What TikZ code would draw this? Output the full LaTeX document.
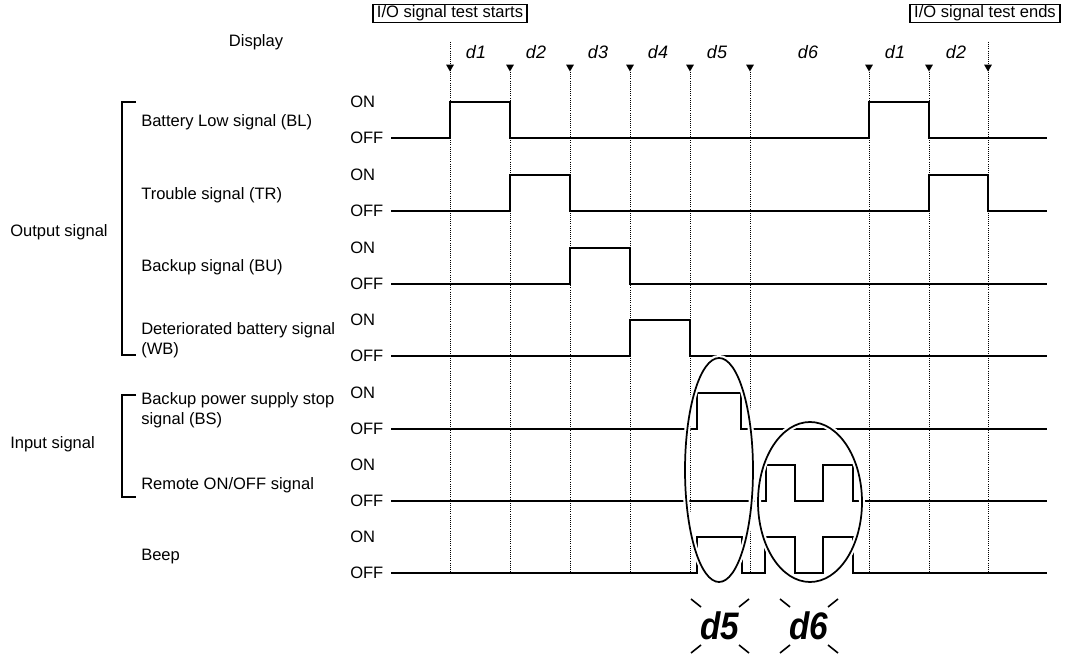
\documentclass[tikz,border=0pt]{standalone}
\usepackage{fontspec}
\setmainfont{Liberation Sans}
\usetikzlibrary{shapes.geometric, calc}

\begin{document}
\begin{tikzpicture}[
        x=0.75pt, y=-0.75pt,
        % Styles
        lbl/.style={font=\fontsize{12.4}{15}\selectfont, inner sep=0pt},
        level/.style={lbl, anchor=west},
        signame/.style={lbl, anchor=west, align=left},
        phasebox/.style={lbl, draw, line width=1.2pt, inner xsep=3pt, inner ysep=1pt},
        digit/.style={font=\fontsize{13.5}{15}\selectfont\itshape, inner sep=0pt},
        bigdigit/.style={font=\fontsize{25}{27}\selectfont\bfseries\itshape, inner sep=0pt, yscale=1.15},
        trig/.style={regular polygon, regular polygon sides=3, shape border rotate=180,
                     fill=black, inner sep=0pt, minimum size=6.75pt},
        guide/.style={densely dotted, line width=0.6pt},
        wave/.style={line width=1.5pt},
        bracket/.style={line width=1.5pt},
        ring/.style={line width=1.3pt},
        halo/.style={white, line width=4.5pt},
        ray/.style={line width=1.2pt},
    ]
    \useasboundingbox (0,0) rectangle (1071,655);

    % Test start / end
    \node[phasebox] (start) at (450,13.5) {I/O signal test starts};
    \node[phasebox] (stop) at (985,13.5) {I/O signal test ends};
    \coordinate (topa) at (450,42);
    \coordinate (topb) at (988,42);
    \coordinate (base) at (391,573);

    % Display markers
    \node[lbl] (display) at (256,42) {Display};
    \node[trig] (m0) at (450,67) {};
    \node[trig] (m1) at (510,67) {};
    \node[trig] (m2) at (570,67) {};
    \node[trig] (m3) at (630,67) {};
    \node[trig] (m4) at (690,67) {};
    \node[trig] (m5) at (750,67) {};
    \node[trig] (m6) at (869,67) {};
    \node[trig] (m7) at (929,67) {};
    \node[trig] (m8) at (988,67) {};

    \draw[guide] (topa) -- (m0 |- base);
    \draw[guide] (topb) -- (m8 |- base);
    \foreach \m in {m1,m2,m3,m4,m5,m6,m7}
        \draw[guide] (\m.south) -- (\m |- base);

    \node[digit] (da) at (476,52) {d1};
    \node[digit] (db) at (536,52) {d2};
    \node[digit] (dc) at (598,52) {d3};
    \node[digit] (dd) at (658,52) {d4};
    \node[digit] (de) at (717,52) {d5};
    \node[digit] (df) at (808,52) {d6};
    \node[digit] (dg) at (895,52) {d1};
    \node[digit] (dh) at (956,52) {d2};

    % Group labels
    \node[lbl, anchor=west] (outsig) at (10,232) {Output signal};
    \node[lbl, anchor=west] (insig) at (10,444) {Input signal};
    \draw[bracket] (136,102) -| (122,355) -- (136,355);
    \draw[bracket] (136,395) -| (122,497) -- (136,497);

    % Signal names
    \node[signame] (bl) at (141,122) {Battery Low signal (BL)};
    \node[signame] (tr) at (141,195) {Trouble signal (TR)};
    \node[signame] (bu) at (141,267) {Backup signal (BU)};
    \node[signame] (wb) at (141,340) {Deteriorated battery signal\\(WB)};
    \node[signame] (bs) at (141,410) {Backup power supply stop\\signal (BS)};
    \node[signame] (ro) at (141,485) {Remote ON/OFF signal};
    \node[signame] (bp) at (141,557) {Beep};

    % ON / OFF levels
    \node[level] (blon) at (350,102) {ON};
    \node[level] (bloff) at (350,138) {OFF};
    \node[level] (tron) at (350,175) {ON};
    \node[level] (troff) at (350,211) {OFF};
    \node[level] (buon) at (350,248) {ON};
    \node[level] (buoff) at (350,284) {OFF};
    \node[level] (wbon) at (350,320) {ON};
    \node[level] (wboff) at (350,356) {OFF};
    \node[level] (bson) at (350,393) {ON};
    \node[level] (bsoff) at (350,429) {OFF};
    \node[level] (roon) at (350,465) {ON};
    \node[level] (rooff) at (350,501) {OFF};
    \node[level] (bpon) at (350,537) {ON};
    \node[level] (bpoff) at (350,573) {OFF};

    % Waveforms
    \draw[wave] (391,138) -| (450,102) -| (510,138) -| (869,102) -| (929,138) -- (1047,138);
    \draw[wave] (391,211) -| (510,175) -| (570,211) -| (929,175) -| (988,211) -- (1047,211);
    \draw[wave] (391,284) -| (570,248) -| (630,284) -- (1047,284);
    \draw[wave] (391,356) -| (630,320) -| (690,356) -- (1047,356);
    \draw[wave] (391,429) -| (697,393) -| (741,429) -- (1047,429);
    \draw[wave] (391,501) -| (766,465) -| (795,501) -| (823,465) -| (853,501) -- (1047,501);
    \draw[wave] (391,573) -| (697,537) -| (742,573) -| (765,537) -| (795,573) -| (823,537) -| (853,573) -- (1047,573);

    % Highlight rings
    \draw[halo] (719,470) ellipse [x radius=34, y radius=112];
    \draw[halo] (810,502) ellipse [x radius=52, y radius=80];
    \draw[ring] (719,470) ellipse [x radius=34, y radius=112];
    \draw[ring] (810,502) ellipse [x radius=52, y radius=80];

    % Blinking display
    \node[bigdigit] (bd5) at (720,626) {d5};
    \node[bigdigit] (bd6) at (809,626) {d6};
    \foreach \n in {bd5,bd6}
        \foreach \sx in {-1,1}
            \foreach \sy in {-1,1}
                \draw[ray] ($(\n)+({19*\sx},{19*\sy})$) -- ($(\n)+({29*\sx},{27*\sy})$);

\end{tikzpicture}
\end{document}
